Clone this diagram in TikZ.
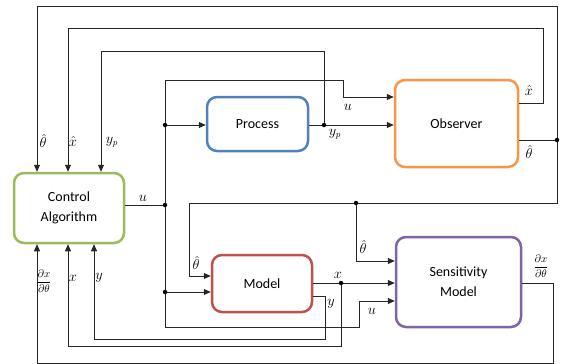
\documentclass[tikz,border=0pt]{standalone}
\usepackage{fontspec}
\setmainfont{Carlito}
\usetikzlibrary{arrows.meta}
\definecolor{ctrlgreen}{HTML}{9BBB59}
\definecolor{procblue}{HTML}{4F81BD}
\definecolor{obsorange}{HTML}{F79646}
\definecolor{modelred}{HTML}{C0504D}
\definecolor{senspurple}{HTML}{8064A2}
\begin{document}
\begin{tikzpicture}[x=1pt,y=-1pt,
  box/.style={draw, rounded corners=10pt, line width=2.5pt, fill=white, align=center,
              font=\fontsize{14}{20}\selectfont, inner sep=0pt},
  wire/.style={line width=0.9pt, draw=black!85},
  arr/.style={wire, -{Triangle[length=7pt,width=6pt]}},
  dot/.style={circle, fill=black, inner sep=0pt, minimum size=4.5pt},
  lbl/.style={font=\fontsize{13.5}{15}\selectfont, inner sep=0.5pt},
  frc/.style={font=\fontsize{10.5}{12}\selectfont, inner sep=0.5pt}]
\useasboundingbox (0,0) rectangle (566,364);

\node[box, draw=ctrlgreen, minimum width=110pt, minimum height=70pt] (ctrl) at (69,208) {Control\\Algorithm};
\node[box, draw=procblue, minimum width=101pt, minimum height=54pt] (proc) at (257.5,124) {Process};
\node[box, draw=obsorange, minimum width=123pt, minimum height=87pt] (obs) at (456.5,123.5) {Observer};
\node[box, draw=modelred, minimum width=100pt, minimum height=57pt] (model) at (262,283.5) {Model};
\node[box, draw=senspurple, minimum width=125pt, minimum height=90pt] (sens) at (458.5,282) {Sensitivity\\Model};

% junction coordinates
\coordinate (jth) at (557,140);
\coordinate (jth2) at (356,203);
\coordinate (jyp) at (324,125);
\coordinate (ju) at (165,205);
\coordinate (ju1) at (165,125);
\coordinate (ju2) at (165,292);
\coordinate (jx) at (341,283);

% theta hat
\draw[wire] (obs.east |- jth) -- (jth);
\draw[arr] (jth) -- (557,6) -- (37,6) -- (37,0 |- ctrl.north);
\draw[arr] (jth) -- (557,203) -- (189,203) -- (189,276) -- (model.west |- 0,276);
\draw[arr] (jth2) -- (356,261) -- (sens.west |- 0,261);

% x hat
\draw[arr] (obs.east |- 0,103) -- (543,103) -- (543,28) -- (68,28) -- (68,0 |- ctrl.north);

% y_p
\draw[arr] (proc.east |- jyp) -- (obs.west |- jyp);
\draw[arr] (jyp) -- (324,51) -- (101,51) -- (101,0 |- ctrl.north);

% u
\draw[wire] (ctrl.east |- ju) -- (ju);
\draw[arr] (ju) -- (165,80) -- (343,80) -- (343,97) -- (obs.west |- 0,97);
\draw[arr] (ju1) -- (proc.west |- ju1);
\draw[arr] (ju) -- (165,327) -- (359,327) -- (359,301) -- (sens.west |- 0,301);
\draw[arr] (ju2) -- (model.west |- ju2);

% model x
\draw[arr] (model.east |- jx) -- (sens.west |- jx);
\draw[arr] (jx) -- (341,346) -- (68,346) -- (68,0 |- ctrl.south);

% model y
\draw[arr] (model.east |- 0,296) -- (325,296) -- (325,339) -- (94,339) -- (94,0 |- ctrl.south);

% sensitivity output
\draw[arr] (sens.east |- 0,283) -- (553,283) -- (553,363) -- (37,363) -- (37,0 |- ctrl.south);

% dots
\foreach \p in {jth,jth2,jyp,ju,ju1,ju2,jx} \node[dot] at (\p) {};

% labels
\node[lbl] (l1) at (43,141) {$\hat\theta$};
\node[lbl] (l2) at (73,141) {$\hat x$};
\node[lbl] (l3) at (112,142) {$y_p$};
\node[lbl] (l4) at (143,198) {$u$};
\node[lbl] (l5) at (335,134) {$y_p$};
\node[lbl] (l6) at (348,107) {$u$};
\node[lbl] (l7) at (529,90) {$\hat x$};
\node[lbl] (l8) at (529,152) {$\hat\theta$};
\node[lbl] (l9) at (196,263) {$\hat\theta$};
\node[lbl] (l10) at (363,247) {$\hat\theta$};
\node[frc] (l11) at (44,281) {$\displaystyle\frac{\partial x}{\partial\theta}$};
\node[lbl] (l12) at (73,278) {$x$};
\node[lbl] (l13) at (99,278) {$y$};
\node[lbl] (l14) at (338,275) {$x$};
\node[lbl] (l15) at (331,304) {$y$};
\node[lbl] (l16) at (372,311) {$u$};
\node[frc] (l17) at (541,266) {$\displaystyle\frac{\partial x}{\partial\theta}$};
\end{tikzpicture}
\end{document}
